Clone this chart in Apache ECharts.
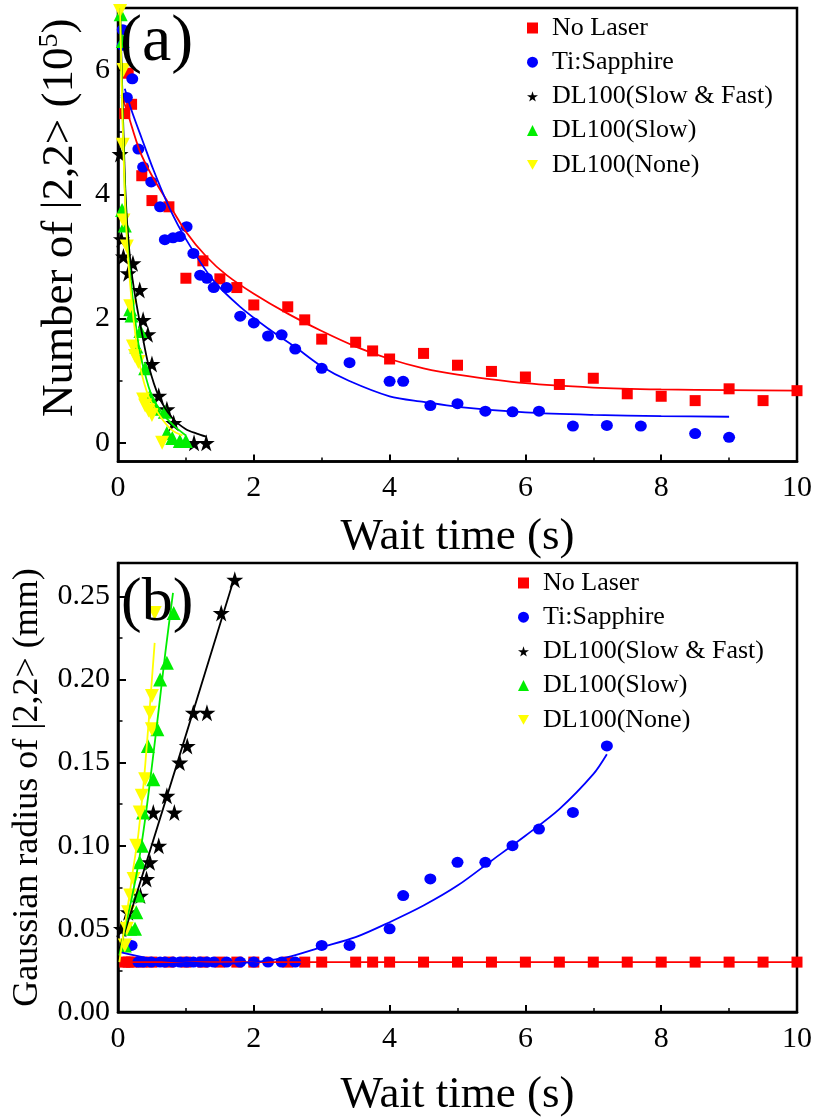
<!DOCTYPE html>
<html>
<head>
<meta charset="utf-8">
<script src="https://cdn.jsdelivr.net/npm/echarts@6/dist/echarts.min.js"></script>
<style>
  html, body { margin: 0; padding: 0; background: #fff; }
  #chart { width: 817px; height: 1119px; }
</style>
</head>
<body>
<div id="chart"></div>
<script>
// Series labels shared by both panels
const seriesNames = ['No Laser', 'Ti:Sapphire', 'DL100(Slow & Fast)', 'DL100(Slow)', 'DL100(None)'];

// Axis ticks
const xTicks = [0, 2, 4, 6, 8, 10];
const yTicksA = [0, 2, 4, 6];
const yMinorA = [1, 3, 5];
const yTicksB = [0, 0.05, 0.10, 0.15, 0.20, 0.25];
const yMinorB = [0.025, 0.075, 0.125, 0.175, 0.225];

// Panel (a): number of |2,2> atoms (1e5) vs wait time (s)
const noLaserA = [[0.1,5.3],[0.15,5.95],[0.2,5.45],[0.35,4.3],[0.5,3.9],[0.75,3.8],[1.0,2.65],[1.25,2.93],[1.5,2.64],[1.75,2.5],[2.0,2.22],[2.5,2.19],[2.75,1.98],[3.0,1.67],[3.5,1.62],[3.75,1.48],[4.0,1.35],[4.5,1.44],[5.0,1.25],[5.5,1.15],[6.0,1.06],[6.5,0.94],[7.0,1.04],[7.5,0.79],[8.0,0.75],[8.5,0.68],[9.0,0.87],[9.5,0.68],[10.0,0.84]];
const tiSapphireA = [[0.07,6.65],[0.07,6.4],[0.13,5.56],[0.21,5.86],[0.3,4.73],[0.37,4.44],[0.49,4.2],[0.62,3.8],[0.69,3.27],[0.81,3.3],[0.91,3.32],[1.01,3.48],[1.11,3.05],[1.21,2.7],[1.31,2.65],[1.41,2.5],[1.6,2.5],[1.8,2.04],[2.0,1.93],[2.21,1.72],[2.41,1.74],[2.61,1.51],[3.0,1.2],[3.41,1.29],[4.0,0.99],[4.2,0.99],[4.6,0.6],[5.0,0.63],[5.41,0.51],[5.81,0.5],[6.2,0.51],[6.7,0.27],[7.2,0.28],[7.7,0.27],[8.5,0.15],[9.0,0.09]];
const slowFastA = [[0.03,4.65],[0.05,3.28],[0.08,3.0],[0.15,2.73],[0.22,2.89],[0.32,2.46],[0.37,1.98],[0.44,1.75],[0.5,1.27],[0.6,0.76],[0.72,0.54],[0.82,0.32],[1.12,0.0],[1.3,0.0]];
const slowA = [[0.04,6.9],[0.07,6.47],[0.06,3.75],[0.1,3.5],[0.18,2.15],[0.2,2.05],[0.27,1.55],[0.33,1.8],[0.4,1.2],[0.47,0.75],[0.55,0.55],[0.69,0.5],[0.72,0.16],[0.8,0.08],[0.91,0.03],[1.0,0.03]];
const noneA = [[0.03,6.95],[0.08,6.0],[0.07,4.8],[0.08,3.58],[0.13,3.16],[0.18,2.2],[0.22,1.55],[0.25,1.4],[0.3,1.3],[0.37,0.7],[0.4,0.6],[0.45,0.52],[0.5,0.45],[0.65,0.0]];

// Panel (a) fitted decay curves
const noLaserFitA = [[0.05,5.6],[0.13,5.35],[0.32,4.7],[0.5,4.3],[0.72,3.9],[1.0,3.4],[1.3,3.0],[1.6,2.7],[2.0,2.4],[2.5,2.08],[3.0,1.8],[3.5,1.55],[4.0,1.35],[4.5,1.2],[5.0,1.1],[6.0,0.96],[7.0,0.89],[8.0,0.86],[9.0,0.85],[10.0,0.84]];
const tiSapphireFitA = [[0.1,5.7],[0.2,5.35],[0.35,4.9],[0.52,4.4],[0.75,3.8],[1.0,3.28],[1.4,2.62],[1.8,2.19],[2.2,1.85],[2.6,1.55],[3.0,1.23],[3.4,1.0],[4.0,0.75],[4.5,0.66],[5.0,0.58],[6.0,0.49],[7.0,0.45],[8.0,0.43],[9.0,0.42]];
const slowFastFitA = [[0.03,7.0],[0.06,5.8],[0.1,4.3],[0.14,3.45],[0.2,2.75],[0.27,2.25],[0.35,1.78],[0.45,1.25],[0.6,0.75],[0.8,0.4],[1.0,0.22],[1.16,0.15],[1.3,0.1]];
const slowFitA = [[0.03,7.0],[0.06,5.6],[0.1,4.1],[0.14,3.2],[0.22,2.3],[0.3,1.6],[0.37,1.23],[0.5,0.75],[0.69,0.43],[0.85,0.25],[1.0,0.12]];
const noneFitA = [[0.03,7.0],[0.06,5.5],[0.1,4.0],[0.14,3.1],[0.2,2.3],[0.26,1.7],[0.32,1.25],[0.45,0.75],[0.62,0.43],[0.8,0.2],[0.95,0.12]];

// Panel (b): Gaussian radius of |2,2> (mm) vs wait time (s)
const noLaserB = [[0.1,0.03],[0.15,0.03],[0.2,0.03],[0.35,0.03],[0.5,0.03],[0.75,0.03],[1.0,0.03],[1.25,0.03],[1.5,0.03],[1.75,0.03],[2.0,0.03],[2.5,0.03],[2.75,0.03],[3.0,0.03],[3.5,0.03],[3.75,0.03],[4.0,0.03],[4.5,0.03],[5.0,0.03],[5.5,0.03],[6.0,0.03],[6.5,0.03],[7.0,0.03],[7.5,0.03],[8.0,0.03],[8.5,0.03],[9.0,0.03],[9.5,0.03],[10.0,0.03]];
const tiSapphireB = [[0.2,0.04],[0.3,0.03],[0.37,0.03],[0.49,0.03],[0.62,0.03],[0.69,0.03],[0.81,0.03],[0.91,0.03],[1.01,0.03],[1.11,0.03],[1.21,0.03],[1.31,0.03],[1.41,0.03],[1.6,0.03],[1.8,0.03],[2.0,0.03],[2.21,0.03],[2.41,0.03],[2.61,0.03],[3.0,0.04],[3.41,0.04],[4.0,0.05],[4.2,0.07],[4.6,0.08],[5.0,0.09],[5.41,0.09],[5.81,0.10],[6.2,0.11],[6.7,0.12],[7.2,0.16]];
const slowFastB = [[0.05,0.05],[0.15,0.06],[0.33,0.07],[0.42,0.08],[0.47,0.09],[0.52,0.12],[0.6,0.10],[0.72,0.13],[0.83,0.12],[0.91,0.15],[1.02,0.16],[1.11,0.18],[1.31,0.18],[1.52,0.24],[1.72,0.26]];
const slowB = [[0.1,0.04],[0.18,0.05],[0.25,0.05],[0.27,0.06],[0.3,0.07],[0.32,0.09],[0.35,0.10],[0.37,0.12],[0.52,0.14],[0.44,0.16],[0.58,0.17],[0.62,0.20],[0.72,0.21],[0.82,0.24]];
const noneB = [[0.1,0.04],[0.13,0.05],[0.15,0.06],[0.18,0.07],[0.23,0.08],[0.27,0.10],[0.32,0.12],[0.35,0.13],[0.4,0.14],[0.5,0.17],[0.47,0.18],[0.5,0.19],[0.54,0.24]];

// Panel (b) fitted curves
const noLaserFitB = [[0.05,0.03],[10.0,0.03]];
const tiSapphireFitB = [[0.03,0.036],[0.5,0.032],[1.0,0.03],[1.5,0.029],[2.0,0.03],[2.5,0.033],[3.0,0.039],[3.5,0.045],[4.0,0.054],[4.5,0.064],[5.0,0.076],[5.5,0.091],[6.0,0.106],[6.5,0.122],[7.0,0.143],[7.2,0.155]];
const slowFastFitB = [[0.0,0.035],[0.86,0.148],[1.72,0.262]];
const slowFitB = [[0.02,0.034],[0.1,0.05],[0.2,0.068],[0.3,0.089],[0.4,0.116],[0.5,0.148],[0.6,0.182],[0.7,0.217],[0.81,0.252]];
const noneFitB = [[0.02,0.03],[0.08,0.047],[0.15,0.065],[0.22,0.085],[0.3,0.107],[0.4,0.148],[0.54,0.222]];

const FONT = '"Liberation Serif", "Times New Roman", serif';
const colors = ['#ff0000', '#0000ff', '#000000', '#00ee00', '#ffff00'];
const STAR = 'path://M50,0 L61,35 L98,35 L68,57 L79,91 L50,70 L21,91 L32,57 L2,35 L39,35 Z';
const TRI_DOWN = 'path://M0,0 L100,0 L50,88 Z';
const symbols = ['rect', 'circle', STAR, 'triangle', TRI_DOWN];
const symbolSizes = [11, [12, 11], 17, 14, 14];

const panelA = [noLaserA, tiSapphireA, slowFastA, slowA, noneA];
const fitsA = [noLaserFitA, tiSapphireFitA, slowFastFitA, slowFitA, noneFitA];
const panelB = [noLaserB, tiSapphireB, slowFastB, slowB, noneB];
const fitsB = [noLaserFitB, tiSapphireFitB, slowFastFitB, slowFitB, noneFitB];
const smoothA = [0.3, 0.3, 0.3, 0.3, 0.3];
const smoothB = [false, 0.3, false, 0.3, 0.3];

function scatterSeries(data, i, axisIdx) {
  return {
    type: 'scatter', name: seriesNames[i], data: data,
    xAxisIndex: axisIdx, yAxisIndex: axisIdx * 2,
    symbol: symbols[i], symbolSize: symbolSizes[i],
    itemStyle: { color: colors[i], opacity: 1 },
    emphasis: { disabled: true }, z: 2
  };
}
function fitSeries(data, i, axisIdx, smooth) {
  return {
    type: 'line', name: seriesNames[i] + ' fit', data: data,
    xAxisIndex: axisIdx, yAxisIndex: axisIdx * 2,
    showSymbol: false, smooth: smooth,
    lineStyle: { color: colors[i], width: 1.8 },
    emphasis: { disabled: true }, z: 3, clip: true
  };
}

const series = [];
panelA.forEach((d, i) => series.push(scatterSeries(d, i, 0)));
panelB.forEach((d, i) => series.push(scatterSeries(d, i, 1)));
fitsA.forEach((d, i) => series.push(fitSeries(d, i, 0, smoothA[i])));
fitsB.forEach((d, i) => series.push(fitSeries(d, i, 1, smoothB[i])));

const axisLineStyle = { color: '#000', width: 2.5 };
const tickLabel = { fontFamily: FONT, fontSize: 30, color: '#000' };

function xAxis(gridIndex, nameGap) {
  return {
    gridIndex: gridIndex, type: 'value', min: 0, max: 10, interval: 2,
    axisLine: { show: true, onZero: false, lineStyle: axisLineStyle },
    axisTick: { show: true, inside: true, length: 7, lineStyle: { color: '#000', width: 2 } },
    minorTick: { show: true, splitNumber: 2, length: 4, lineStyle: { color: '#000', width: 1.5 } },
    axisLabel: Object.assign({ margin: 12 }, tickLabel),
    splitLine: { show: false },
    name: 'Wait time (s)', nameLocation: 'middle', nameGap: nameGap,
    nameTextStyle: { fontFamily: FONT, fontSize: 45, color: '#000', lineHeight: 45 }
  };
}
function minorY(gridIndex, min, max, values) {
  return {
    gridIndex: gridIndex, type: 'value', min: min, max: max, position: 'left',
    axisLine: { show: false },
    axisTick: { show: true, inside: true, length: 4.5, customValues: values, lineStyle: { color: '#000', width: 1.5 } },
    axisLabel: { show: false }, splitLine: { show: false }
  };
}

const legendBase = {
  orient: 'vertical', padding: 0, itemGap: 8.2, itemWidth: 11, itemHeight: 11,
  selectedMode: false, data: seriesNames,
  textStyle: { fontFamily: FONT, fontSize: 26, color: '#000', lineHeight: 26, padding: [0, 0, 0, 9] }
};

const option = {
  animation: false,
  backgroundColor: '#fff',
  textStyle: { fontFamily: FONT },
  title: [
    { text: '(a)', left: 120, top: 10, padding: 0,
      textStyle: { fontFamily: FONT, fontSize: 66, fontWeight: 'normal', color: '#000', lineHeight: 66 } },
    { text: '(b)', left: 121, top: 573, padding: 0,
      textStyle: { fontFamily: FONT, fontSize: 62, fontWeight: 'normal', color: '#000', lineHeight: 62 } }
  ],
  legend: [
    Object.assign({ left: 527, top: 15 }, legendBase),
    Object.assign({ left: 518, top: 570 }, legendBase)
  ],
  grid: [
    { left: 118, top: 8, width: 679, height: 453.5, show: true, borderColor: '#000', borderWidth: 2.5, containLabel: false },
    { left: 118, top: 563, width: 679, height: 452, show: true, borderColor: '#000', borderWidth: 2.5, containLabel: false }
  ],
  xAxis: [xAxis(0, 53), xAxis(1, 61)],
  yAxis: [
    {
      gridIndex: 0, type: 'value', min: -0.3, max: 7, position: 'left',
      axisLine: { show: true, onZero: false, lineStyle: axisLineStyle },
      axisTick: { show: true, inside: true, length: 8, customValues: yTicksA, lineStyle: { color: '#000', width: 2 } },
      axisLabel: Object.assign({ margin: 8, customValues: yTicksA }, tickLabel),
      splitLine: { show: false },
      name: 'Number of |2,2> (10{sup|5})', nameLocation: 'middle', nameGap: 30,
      nameTextStyle: {
        fontFamily: FONT, fontSize: 45, color: '#000', lineHeight: 48, padding: [0, 0, 0, 34],
        rich: { sup: { fontFamily: FONT, fontSize: 28, lineHeight: 48, verticalAlign: 'top', padding: [0, 0, 14, 0] } }
      }
    },
    minorY(0, -0.3, 7, yMinorA),
    {
      gridIndex: 1, type: 'value', min: 0, max: 0.27, position: 'left',
      axisLine: { show: true, onZero: false, lineStyle: axisLineStyle },
      axisTick: { show: true, inside: true, length: 8, customValues: yTicksB, lineStyle: { color: '#000', width: 2 } },
      axisLabel: Object.assign({ margin: 8, customValues: yTicksB, formatter: v => v.toFixed(2) }, tickLabel),
      splitLine: { show: false },
      name: 'Gaussian radius of |2,2> (mm)', nameLocation: 'middle', nameGap: 72,
      nameTextStyle: { fontFamily: FONT, fontSize: 36, color: '#000', lineHeight: 36 }
    },
    minorY(1, 0, 0.27, yMinorB)
  ],
  series: series
};

const chart = echarts.init(document.getElementById('chart'), null, { renderer: 'canvas' });
chart.setOption(option);
</script>
</body>
</html>
